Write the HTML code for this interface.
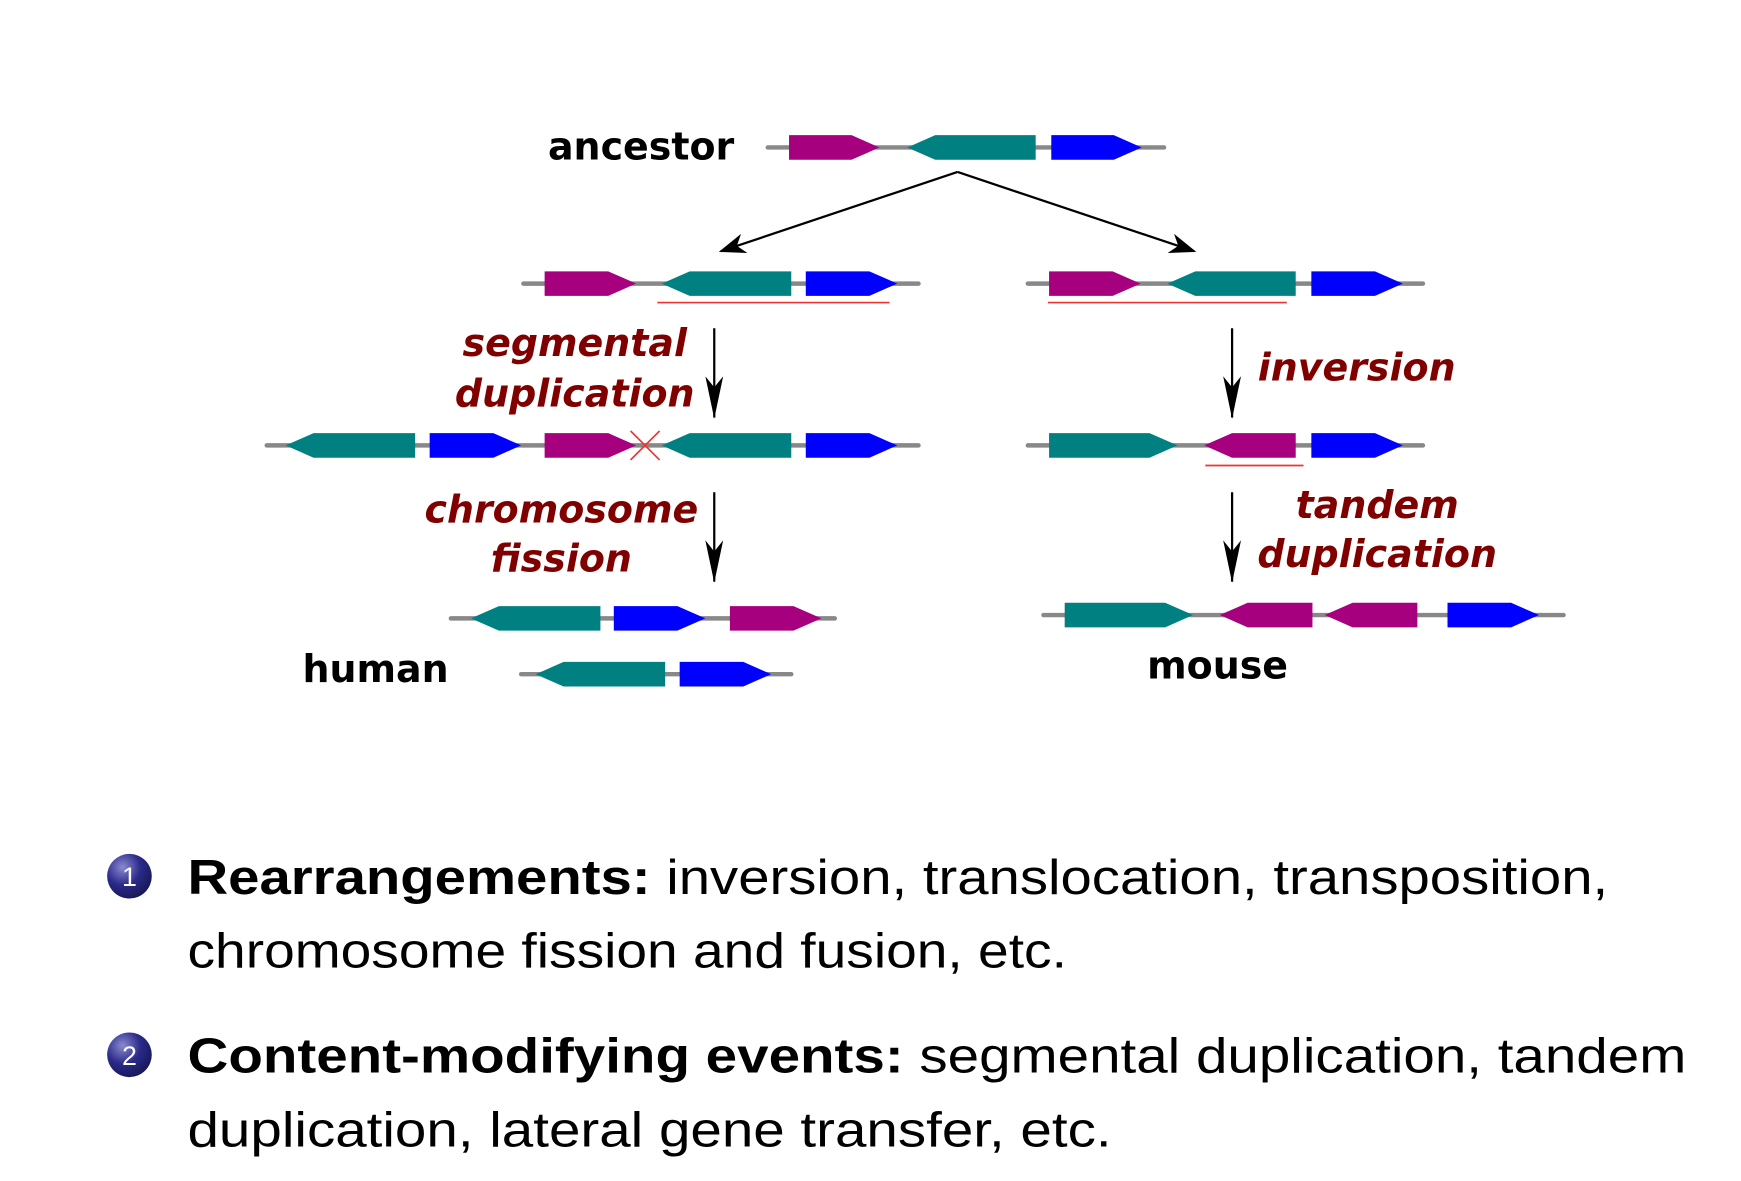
<!DOCTYPE html>
<html><head><meta charset="utf-8"><style>
html,body{margin:0;padding:0;background:#fff;}
svg{display:block}
.l{stroke:#888;stroke-width:4;stroke-linecap:round}
.m{fill:#a6007f}.t{fill:#008080}.b{fill:#0000ff}
.lab{font-family:"DejaVu Sans","Liberation Sans",sans-serif;font-weight:bold;font-size:34px;fill:#000}
.ev{font-family:"DejaVu Sans","Liberation Sans",sans-serif;font-weight:bold;font-style:italic;font-size:34px;fill:#800000}
.tx{font-family:"Liberation Sans",sans-serif;font-size:44px;fill:#000}
.bd{font-weight:bold}
</style></head><body>
<svg width="1741" height="1181" viewBox="2 1 1560 1058" xmlns="http://www.w3.org/2000/svg">
<defs>
<radialGradient id="bg" cx="0.35" cy="0.3" r="0.8"><stop offset="0" stop-color="#8a8ad0"/><stop offset="0.5" stop-color="#2a2a8a"/><stop offset="1" stop-color="#14144e"/></radialGradient>
<marker id="ah" viewBox="0 0 24 20" refX="22" refY="10" markerWidth="24" markerHeight="20" markerUnits="userSpaceOnUse" orient="auto"><path d="M0,1 L24,10 L0,19 L7,10 Z" fill="#000"/></marker>
<marker id="av" viewBox="0 0 38 16" refX="37" refY="8" markerWidth="38" markerHeight="16" markerUnits="userSpaceOnUse" orient="auto"><path d="M0,0 L38,8 L0,16 L10,8 Z" fill="#000"/></marker>
</defs>

<text class="lab" x="493" y="144">ancestor</text>
<line class="l" x1="690" y1="133" x2="1045" y2="133"/>
<polygon class="m" points="709,122 765,122 790,133 765,144 709,144"/>
<polygon class="t" points="815,133 840,122 930,122 930,144 840,144"/>
<polygon class="b" points="944,122 1000,122 1025,133 1000,144 944,144"/>

<line x1="860" y1="155" x2="648" y2="226" stroke="#000" stroke-width="2" marker-end="url(#ah)"/>
<line x1="860" y1="155" x2="1072" y2="226" stroke="#000" stroke-width="2" marker-end="url(#ah)"/>

<line class="l" x1="471" y1="255" x2="825" y2="255"/>
<polygon class="m" points="490,244 547,244 572,255 547,266 490,266"/>
<polygon class="t" points="595,255 620,244 711,244 711,266 620,266"/>
<polygon class="b" points="724,244 781,244 806,255 781,266 724,266"/>
<line x1="591" y1="272" x2="799" y2="272" stroke="#e33" stroke-width="1.5"/>
<line class="l" x1="923" y1="255" x2="1277" y2="255"/>
<polygon class="m" points="942,244 999,244 1024,255 999,266 942,266"/>
<polygon class="t" points="1048,255 1073,244 1163,244 1163,266 1073,266"/>
<polygon class="b" points="1177,244 1234,244 1259,255 1234,266 1177,266"/>
<line x1="941" y1="272" x2="1155" y2="272" stroke="#e33" stroke-width="1.5"/>

<line x1="642" y1="295" x2="642" y2="375" stroke="#000" stroke-width="2" marker-end="url(#av)"/>
<line x1="1106" y1="295" x2="1106" y2="375" stroke="#000" stroke-width="2" marker-end="url(#av)"/>
<text class="ev" x="517" y="320" text-anchor="middle">segmental</text>
<text class="ev" x="517" y="365" text-anchor="middle">duplication</text>
<text class="ev" x="1129" y="342">inversion</text>

<line class="l" x1="241" y1="400" x2="825" y2="400"/>
<polygon class="t" points="258,400 283,389 374,389 374,411 283,411"/>
<polygon class="b" points="387,389 444,389 469,400 444,411 387,411"/>
<polygon class="m" points="490,389 547,389 572,400 547,411 490,411"/>
<polygon class="t" points="595,400 620,389 711,389 711,411 620,411"/>
<polygon class="b" points="724,389 781,389 806,400 781,411 724,411"/>
<path d="M567,387 L593,413 M593,387 L567,413" stroke="#e33" stroke-width="1.5"/>
<line class="l" x1="923" y1="400" x2="1277" y2="400"/>
<polygon class="t" points="942,389 1032,389 1057,400 1032,411 942,411"/>
<polygon class="m" points="1081,400 1106,389 1163,389 1163,411 1106,411"/>
<polygon class="b" points="1177,389 1234,389 1259,400 1234,411 1177,411"/>
<line x1="1082" y1="418" x2="1170" y2="418" stroke="#e33" stroke-width="1.5"/>

<line x1="642" y1="442" x2="642" y2="522" stroke="#000" stroke-width="2" marker-end="url(#av)"/>
<line x1="1106" y1="442" x2="1106" y2="522" stroke="#000" stroke-width="2" marker-end="url(#av)"/>
<text class="ev" x="505" y="469" text-anchor="middle">chromosome</text>
<text class="ev" x="505" y="513" text-anchor="middle">fission</text>
<text class="ev" x="1236" y="465" text-anchor="middle">tandem</text>
<text class="ev" x="1236" y="509" text-anchor="middle">duplication</text>

<line class="l" x1="406" y1="555" x2="750" y2="555"/>
<polygon class="t" points="424,555 449,544 540,544 540,566 449,566"/>
<polygon class="b" points="552,544 609,544 634,555 609,566 552,566"/>
<polygon class="m" points="656,544 713,544 738,555 713,566 656,566"/>
<line class="l" x1="469" y1="605" x2="711" y2="605"/>
<polygon class="t" points="482,605 507,594 598,594 598,616 507,616"/>
<polygon class="b" points="611,594 668,594 693,605 668,616 611,616"/>
<text class="lab" x="273" y="612">human</text>

<line class="l" x1="937" y1="552" x2="1403" y2="552"/>
<polygon class="t" points="956,541 1046,541 1071,552 1046,563 956,563"/>
<polygon class="m" points="1095,552 1120,541 1178,541 1178,563 1120,563"/>
<polygon class="m" points="1189,552 1214,541 1272,541 1272,563 1214,563"/>
<polygon class="b" points="1299,541 1356,541 1381,552 1356,563 1299,563"/>
<text class="lab" x="1093" y="609" text-anchor="middle">mouse</text>

<circle cx="118" cy="786" r="20" fill="url(#bg)"/>
<text x="118" y="795" text-anchor="middle" font-family="Liberation Sans,sans-serif" font-size="24" fill="#fff">1</text>
<text class="tx" x="170" y="802" textLength="1273" lengthAdjust="spacingAndGlyphs"><tspan class="bd">Rearrangements:</tspan> inversion, translocation, transposition,</text>
<text class="tx" x="170" y="868" textLength="788" lengthAdjust="spacingAndGlyphs">chromosome fission and fusion, etc.</text>
<circle cx="118" cy="946" r="20" fill="url(#bg)"/>
<text x="118" y="955" text-anchor="middle" font-family="Liberation Sans,sans-serif" font-size="24" fill="#fff">2</text>
<text class="tx" x="170" y="962" textLength="1343" lengthAdjust="spacingAndGlyphs"><tspan class="bd">Content-modifying events:</tspan> segmental duplication, tandem</text>
<text class="tx" x="170" y="1028" textLength="828" lengthAdjust="spacingAndGlyphs">duplication, lateral gene transfer, etc.</text>
</svg>
</body></html>
